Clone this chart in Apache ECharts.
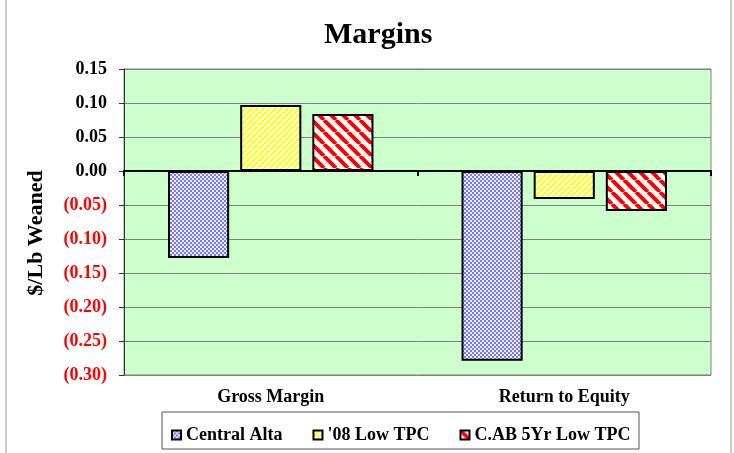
<!DOCTYPE html>
<html><head><meta charset="utf-8">
<script src="https://cdn.jsdelivr.net/npm/echarts@6/dist/echarts.min.js"></script>
<style>html,body{margin:0;padding:0;background:#fff}#c{width:734px;height:453px}</style>
</head><body><div id="c"></div>
<script>
var categories = ['Gross Margin', 'Return to Equity'];
var seriesNames = ['Central Alta', "'08 Low TPC", 'C.AB 5Yr Low TPC'];
var centralAlta = [-0.128, -0.279];
var lowTPC08 = [0.097, -0.041];
var cab5YrLowTPC = [0.084, -0.059];
var yTicks = [0.15, 0.10, 0.05, 0.00, -0.05, -0.10, -0.15, -0.20, -0.25, -0.30];

function mk(w, h, draw) {
  var c = document.createElement('canvas'); c.width = w; c.height = h;
  var g = c.getContext('2d'); draw(g, w, h); return c;
}
var bluePat = mk(4, 4, function (g) {
  g.fillStyle = '#eeeeff'; g.fillRect(0, 0, 4, 4);
  g.fillStyle = '#7878ff';
  g.fillRect(0, 0, 2, 2); g.fillRect(2, 2, 2, 2);
});
var yellowPat = mk(6, 6, function (g) {
  g.fillStyle = '#ffffff'; g.fillRect(0, 0, 6, 6);
  g.strokeStyle = '#ffff00'; g.lineWidth = 2.2;
  for (var k = -6; k <= 12; k += 6) { g.beginPath(); g.moveTo(k, 6); g.lineTo(k + 6, 0); g.stroke(); }
});
var redPat = mk(12, 12, function (g) {
  g.fillStyle = '#ffffff'; g.fillRect(0, 0, 12, 12);
  g.strokeStyle = '#ff0000'; g.lineWidth = 4;
  for (var k = -12; k <= 24; k += 12) { g.beginPath(); g.moveTo(k, 0); g.lineTo(k + 12, 12); g.stroke(); }
});
var pats = [bluePat, yellowPat, redPat];
var datas = [centralAlta, lowTPC08, cab5YrLowTPC];

var serif = '"Liberation Serif", "DejaVu Serif", serif';
var chart = echarts.init(document.getElementById('c'));
chart.setOption({
  backgroundColor: '#ffffff',
  animation: false,
  title: { text: 'Margins', left: 319, top: 15,
    textStyle: { fontFamily: serif, fontWeight: 'bold', fontSize: 30, color: '#000' } },
  graphic: [
    { type: 'rect', shape: { x: 6, y: -2, width: 725, height: 500 }, style: { fill: 'none', stroke: '#999', lineWidth: 1 }, z: -10 },
    { type: 'rect', shape: { x: 162, y: 412, width: 477, height: 37 }, style: { fill: '#fff', stroke: '#555', lineWidth: 1 }, z: 0 },
    { type: 'text', x: 36, y: 233, rotation: Math.PI / 2, z: 5,
      style: { text: '$/Lb Weaned', fontFamily: serif, fontWeight: 'bold', fontSize: 22, fill: '#000',
        align: 'center', verticalAlign: 'middle' } }
  ],
  legend: {
    left: 166, top: 421, itemWidth: 9, itemHeight: 9, itemGap: 30, z: 5,
    textStyle: { fontFamily: serif, fontWeight: 'bold', fontSize: 18, color: '#000' },
    data: seriesNames.map(function (n) { return { name: n, icon: 'rect' }; })
  },
  grid: { left: 124, right: 23, top: 69, bottom: 78, show: true,
    backgroundColor: '#ccffcc', borderColor: '#808080', borderWidth: 1 },
  xAxis: [
    { type: 'category', data: categories, position: 'bottom',
      axisLine: { onZero: true, lineStyle: { color: '#000', width: 2 } },
      axisTick: { show: true, length: 5, lineStyle: { color: '#000', width: 2 } },
      axisLabel: { show: false } },
    { type: 'category', data: categories, position: 'bottom',
      axisLine: { show: false, onZero: false }, axisTick: { show: false },
      axisLabel: { margin: 13, fontFamily: serif, fontWeight: 'bold', fontSize: 18, color: '#000' } }
  ],
  yAxis: {
    type: 'value', min: -0.30, max: 0.15, interval: 0.05,
    axisLine: { show: true, lineStyle: { color: '#333', width: 1 } },
    axisTick: { show: true, length: 5, lineStyle: { color: '#333' } },
    splitLine: { show: true, lineStyle: { color: '#808080', width: 1 } },
    axisLabel: {
      margin: 17, fontFamily: serif, fontWeight: 'bold', fontSize: 18,
      color: function (v) { return Number(v) < -1e-9 ? '#ff0000' : '#000000'; },
      formatter: function (v) { return v < -1e-9 ? '(' + Math.abs(v).toFixed(2) + ')' : Math.abs(v).toFixed(2); }
    }
  },
  series: seriesNames.map(function (n, i) {
    return { name: n, type: 'bar', xAxisIndex: 0, data: datas[i],
      barCategoryGap: '30%', barGap: '18%',
      itemStyle: { color: { image: pats[i], repeat: 'repeat' }, borderColor: '#000', borderWidth: 2 } };
  })
});
</script></body></html>
